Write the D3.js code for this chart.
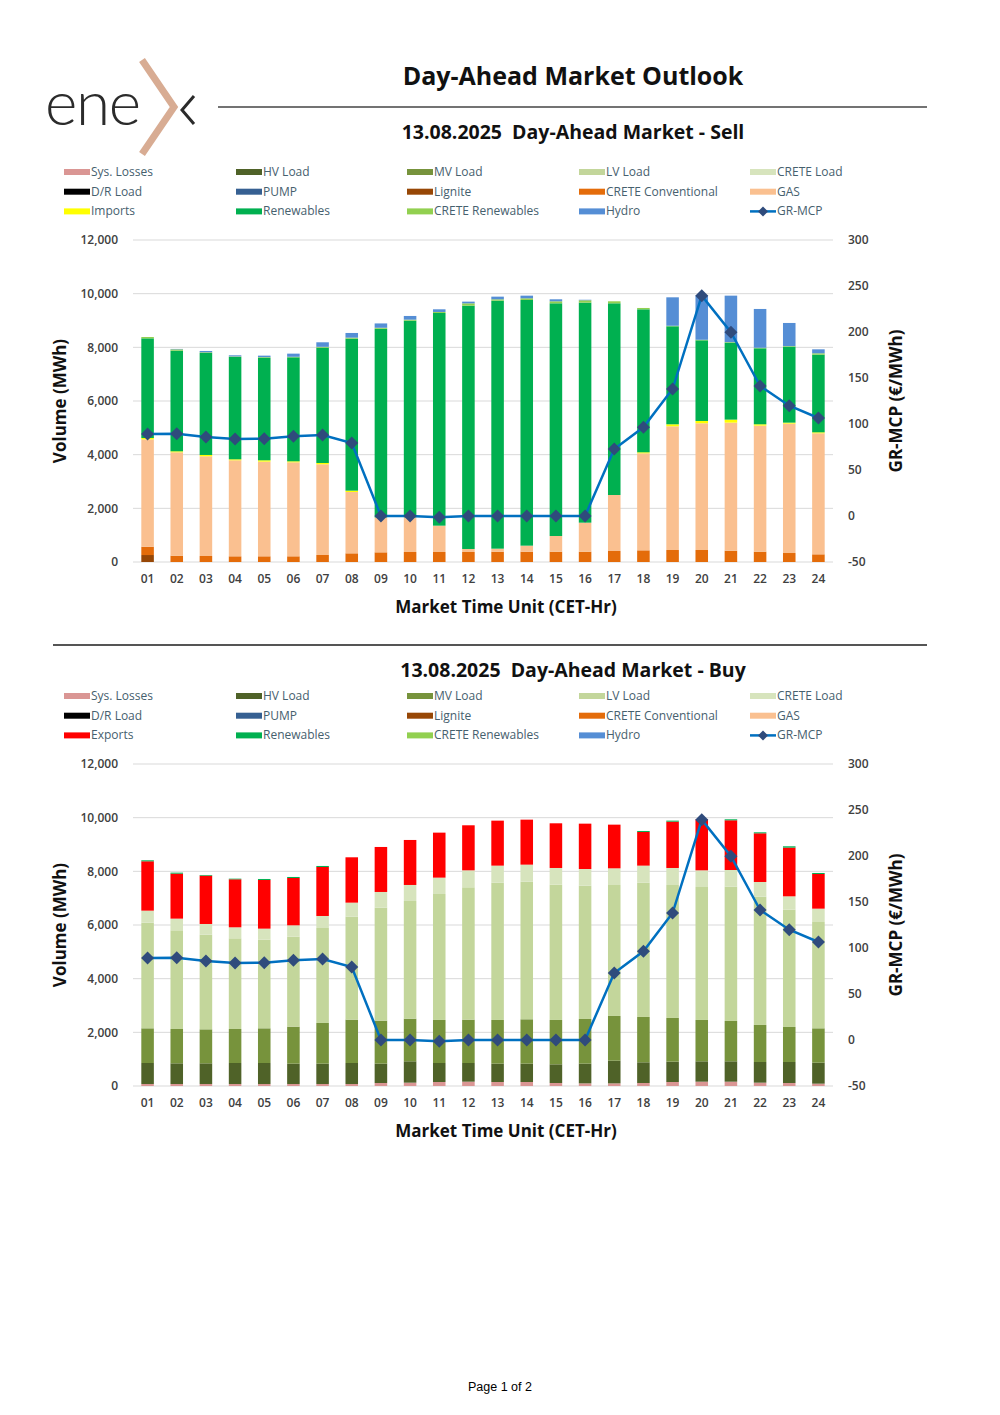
<!DOCTYPE html>
<html>
<head>
<meta charset="utf-8">
<script src="https://cdn.jsdelivr.net/npm/d3@7"></script>
<style>
  body { margin: 0; background: #fff; }
  svg { display: block; }
  text { white-space: pre; }
</style>
</head>
<body>
<script>
"use strict";

var hours = ["01","02","03","04","05","06","07","08","09","10","11","12",
             "13","14","15","16","17","18","19","20","21","22","23","24"];

// GR-MCP (€/MWh)
var price = [89.1, 89.5, 85.9, 83.7, 84.1, 86.6, 88.0, 79.3, 0.0, 0.0, -1.4, 0.0,
             0.0, 0.0, 0.0, 0.0, 72.8, 96.4, 138.0, 239.5, 199.7, 141.3, 119.9, 106.5];

// Sell side (MWh)
var lignite    = [260, 0, 0, 0, 0, 0, 0, 0, 0, 0, 0, 0, 0, 0, 0, 0, 0, 0, 0, 0, 0, 0, 0, 0];
var creteConv  = [310, 236, 224, 212, 212, 212, 261, 323, 360, 373, 373, 373,
                  385, 385, 385, 385, 410, 435, 447, 447, 422, 385, 335, 286];
var gas        = [4000, 3852, 3715, 3578, 3528, 3503, 3380, 2286, 1300, 1292, 981, 112,
                  112, 224, 584, 1081, 2087, 3615, 4610, 4722, 4772, 4697, 4822, 4510];
var imports    = [50, 37, 50, 37, 50, 37, 49, 50, 0, 0, 0, 0,
                  0, 0, 0, 0, 0, 38, 75, 87, 112, 50, 37, 37];
var renewables = [3715, 3751, 3801, 3814, 3826, 3876, 4299, 5665, 7032, 7330, 7927, 9068,
                  9243, 9156, 8672, 8200, 7144, 5329, 3652, 3006, 2869, 2832, 2832, 2895];
var creteRen   = [50, 49, 25, 20, 20, 20, 30, 37, 37, 37, 37, 87,
                  50, 62, 75, 87, 75, 50, 20, 20, 20, 20, 20, 50];
var hydro      = [0, 15, 49, 42, 54, 117, 169, 174, 162, 137, 99, 63,
                  99, 99, 74, 20, 0, 0, 1060, 1648, 1731, 1446, 862, 148];

// Buy side (MWh)
var sysLosses  = [75, 75, 75, 75, 75, 75, 75, 75, 112, 124, 149, 161,
                  149, 149, 112, 99, 99, 112, 149, 161, 161, 124, 112, 87];
var hvLoad     = [782, 770, 770, 782, 782, 758, 758, 782, 721, 796, 708, 696,
                  684, 684, 696, 734, 846, 771, 759, 759, 759, 771, 783, 783];
var mvLoad     = [1293, 1280, 1267, 1268, 1293, 1379, 1516, 1616, 1603, 1590, 1604, 1616,
                  1628, 1653, 1653, 1665, 1665, 1690, 1628, 1541, 1504, 1380, 1305, 1280];
var lvLoad     = [3937, 3677, 3528, 3379, 3304, 3354, 3540, 3838, 4210, 4385, 4695, 4932,
                  5117, 5129, 5042, 4968, 4881, 5005, 4955, 4955, 5005, 4782, 4372, 3962];
var creteLoad  = [448, 435, 398, 410, 410, 422, 447, 522, 585, 597, 609, 633,
                  634, 634, 622, 621, 621, 634, 634, 622, 621, 546, 497, 497];
var exportsBuy = [1839, 1677, 1801, 1789, 1814, 1764, 1826, 1690, 1677, 1677, 1677, 1678,
                  1677, 1677, 1665, 1690, 1628, 1255, 1727, 1901, 1852, 1814, 1815, 1292];
var renewBuy   = [37, 37, 25, 24, 37, 38, 38, 0, 0, 0, 0, 0,
                  0, 0, 0, 0, 0, 37, 37, 0, 37, 37, 49, 38];

var volTicks   = [0, 2000, 4000, 6000, 8000, 10000, 12000];
var priceTicks = [-50, 0, 50, 100, 150, 200, 250, 300];

var colors = {
    "Sys. Losses": "#DA9694", "HV Load": "#4F6228", "MV Load": "#77933C",
    "LV Load": "#C3D69B", "CRETE Load": "#D7E4BD", "D/R Load": "#000000",
    "PUMP": "#366092", "Lignite": "#974706", "CRETE Conventional": "#E46C0A",
    "GAS": "#FAC090", "Imports": "#FFFF00", "Exports": "#FF0000",
    "Renewables": "#00B050", "CRETE Renewables": "#92D050", "Hydro": "#558ED5"
};

var font = "'Open Sans', 'DejaVu Sans', sans-serif";

function diamond(r) {
    return "M0," + (-r) + "L" + r + ",0L0," + r + "L" + (-r) + ",0Z";
}

var svg = d3.select("body").append("svg")
    .attr("width", 1000)
    .attr("height", 1415);

// --- header / logo ---
var logo = svg.append("g");
logo.append("text")
    .attr("x", 45).attr("y", 125)
    .attr("font-family", "Lato, 'DejaVu Sans', sans-serif")
    .attr("font-weight", 300)
    .attr("font-size", 62)
    .attr("fill", "#2b2b2b")
    .attr("textLength", 96)
    .text("ene");
logo.append("path")
    .attr("d", "M142,60 L174,107 L142,154")
    .attr("fill", "none").attr("stroke", "#D8AC93").attr("stroke-width", 7);
logo.append("path")
    .attr("d", "M194,96 L182,110 L194,124")
    .attr("fill", "none").attr("stroke", "#2b2b2b").attr("stroke-width", 3);

svg.append("text")
    .attr("x", 573).attr("y", 85)
    .attr("text-anchor", "middle")
    .attr("font-family", font).attr("font-weight", "bold").attr("font-size", 25)
    .attr("fill", "#111")
    .text("Day-Ahead Market Outlook");

svg.append("line")
    .attr("x1", 218).attr("x2", 927).attr("y1", 107).attr("y2", 107)
    .attr("stroke", "#444").attr("stroke-width", 1.5);

svg.append("line")
    .attr("x1", 53).attr("x2", 927).attr("y1", 645).attr("y2", 645)
    .attr("stroke", "#555").attr("stroke-width", 2);

svg.append("text")
    .attr("x", 500).attr("y", 1391)
    .attr("text-anchor", "middle")
    .attr("font-family", "'Liberation Sans', Arial, sans-serif")
    .attr("font-size", 12.5)
    .attr("fill", "#000")
    .text("Page 1 of 2");

// --- panels ---
function drawPanel(cfg) {
    var g = svg.append("g");
    var x0 = 133, x1 = 833;

    g.append("text")
        .attr("x", 573).attr("y", cfg.titleY)
        .attr("text-anchor", "middle")
        .attr("font-family", font).attr("font-weight", "bold").attr("font-size", 19.5)
        .attr("fill", "#111")
        .text(cfg.title);

    // legend
    var legendNames = [
        ["Sys. Losses", "HV Load", "MV Load", "LV Load", "CRETE Load"],
        ["D/R Load", "PUMP", "Lignite", "CRETE Conventional", "GAS"],
        [cfg.tradeName, "Renewables", "CRETE Renewables", "Hydro", "GR-MCP"]
    ];
    var colX = [64, 236, 407, 579, 750];
    legendNames.forEach(function (row, r) {
        row.forEach(function (name, c) {
            var lx = colX[c], ly = cfg.legendY + r * 19.7;
            if (name === "GR-MCP") {
                g.append("line")
                    .attr("x1", lx).attr("x2", lx + 26).attr("y1", ly).attr("y2", ly)
                    .attr("stroke", "#0070C0").attr("stroke-width", 2.5);
                g.append("path")
                    .attr("transform", "translate(" + (lx + 13) + "," + ly + ")")
                    .attr("d", diamond(5))
                    .attr("fill", "#2F4B7C");
            } else {
                g.append("rect")
                    .attr("x", lx).attr("y", ly - 3)
                    .attr("width", 26).attr("height", 6)
                    .attr("fill", colors[name]);
            }
            g.append("text")
                .attr("x", lx + 27).attr("y", ly + 4)
                .attr("font-family", font).attr("font-size", 12)
                .attr("fill", "#46606E")
                .text(name);
        });
    });

    var x = d3.scaleBand().domain(hours).range([x0, x1]).paddingInner(0.57).paddingOuter(0.285);
    var y = d3.scaleLinear().domain([0, 12000]).range([cfg.zeroY, cfg.zeroY - 322]);
    var y2 = d3.scaleLinear().domain([-50, 300]).range([cfg.zeroY, cfg.zeroY - 322]);

    // gridlines
    g.selectAll(".grid").data(volTicks).enter().append("line")
        .attr("x1", x0).attr("x2", x1)
        .attr("y1", function (d) { return y(d); })
        .attr("y2", function (d) { return y(d); })
        .attr("stroke", "#D9D9D9").attr("stroke-width", 1);

    // stacked bars
    var table = hours.map(function (h, i) {
        var row = { hour: h };
        cfg.series.forEach(function (s) { row[s.name] = s.values[i]; });
        return row;
    });
    var stack = d3.stack().keys(cfg.series.map(function (s) { return s.name; }));
    var layers = stack(table);

    g.selectAll(".layer").data(layers).enter().append("g")
        .attr("fill", function (d) { return colors[d.key]; })
        .selectAll("rect").data(function (d) { return d; }).enter().append("rect")
        .attr("x", function (d) { return x(d.data.hour); })
        .attr("width", x.bandwidth())
        .attr("y", function (d) { return y(d[1]); })
        .attr("height", function (d) { return Math.max(0, y(d[0]) - y(d[1])); });

    // price line
    var line = d3.line()
        .x(function (d, i) { return x(hours[i]) + x.bandwidth() / 2; })
        .y(function (d) { return y2(d); });
    g.append("path").datum(price)
        .attr("d", line)
        .attr("fill", "none").attr("stroke", "#0070C0").attr("stroke-width", 2.5);
    g.selectAll(".mk").data(price).enter().append("path")
        .attr("transform", function (d, i) {
            return "translate(" + (x(hours[i]) + x.bandwidth() / 2) + "," + y2(d) + ")";
        })
        .attr("d", diamond(6.5))
        .attr("fill", "#2F4B7C");

    // axes
    var axisL = g.append("g")
        .attr("transform", "translate(" + (x0 - 12) + ",0)")
        .call(d3.axisLeft(y).tickValues(volTicks).tickSize(0).tickFormat(d3.format(",")));
    var axisR = g.append("g")
        .attr("transform", "translate(" + (x1 + 12) + ",0)")
        .call(d3.axisRight(y2).tickValues(priceTicks).tickSize(0)
            .tickFormat(function (d) { return String(d); }));
    var axisB = g.append("g")
        .attr("transform", "translate(0," + (cfg.zeroY + 9) + ")")
        .call(d3.axisBottom(x).tickSize(0));
    [axisL, axisR, axisB].forEach(function (a) {
        a.select(".domain").remove();
        a.selectAll("text")
            .attr("font-family", font).attr("font-size", 12)
            .attr("font-weight", 600)
            .attr("fill", "#404040");
    });

    g.append("text")
        .attr("transform", "translate(66," + (cfg.zeroY - 161) + ") rotate(-90)")
        .attr("text-anchor", "middle")
        .attr("font-family", font).attr("font-weight", "bold").attr("font-size", 17)
        .attr("fill", "#111")
        .text("Volume (MWh)");
    g.append("text")
        .attr("transform", "translate(902," + (cfg.zeroY - 161) + ") rotate(-90)")
        .attr("text-anchor", "middle")
        .attr("font-family", font).attr("font-weight", "bold").attr("font-size", 17)
        .attr("fill", "#111")
        .text("GR-MCP (€/MWh)");
    g.append("text")
        .attr("x", 506).attr("y", cfg.zeroY + 51)
        .attr("text-anchor", "middle")
        .attr("font-family", font).attr("font-weight", "bold").attr("font-size", 17)
        .attr("fill", "#111")
        .text("Market Time Unit (CET-Hr)");
}

drawPanel({
    title: "13.08.2025  Day-Ahead Market - Sell",
    titleY: 139,
    legendY: 172,
    zeroY: 562,
    tradeName: "Imports",
    series: [
        { name: "Lignite", values: lignite },
        { name: "CRETE Conventional", values: creteConv },
        { name: "GAS", values: gas },
        { name: "Imports", values: imports },
        { name: "Renewables", values: renewables },
        { name: "CRETE Renewables", values: creteRen },
        { name: "Hydro", values: hydro }
    ]
});

drawPanel({
    title: "13.08.2025  Day-Ahead Market - Buy",
    titleY: 677,
    legendY: 696,
    zeroY: 1086,
    tradeName: "Exports",
    series: [
        { name: "Sys. Losses", values: sysLosses },
        { name: "HV Load", values: hvLoad },
        { name: "MV Load", values: mvLoad },
        { name: "LV Load", values: lvLoad },
        { name: "CRETE Load", values: creteLoad },
        { name: "Exports", values: exportsBuy },
        { name: "Renewables", values: renewBuy }
    ]
});
</script>
</body>
</html>
